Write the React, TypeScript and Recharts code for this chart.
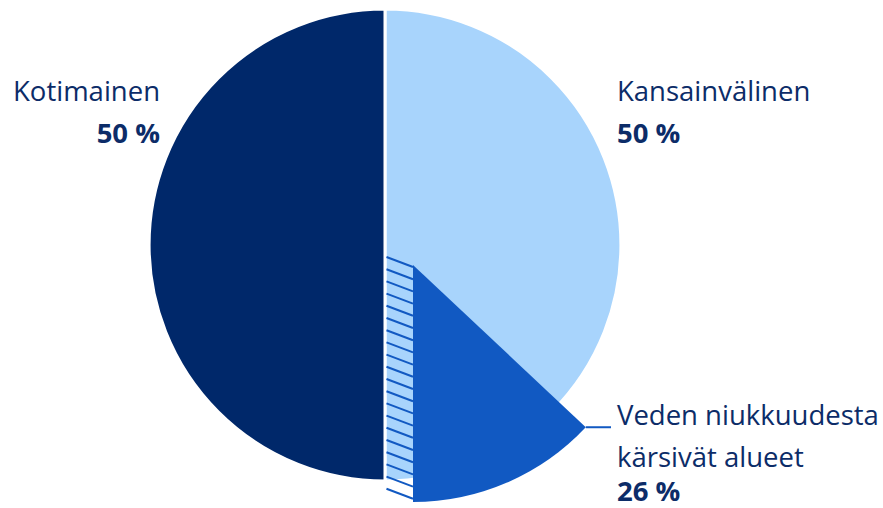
import React from 'react'
import { PieChart, Pie, Cell } from 'recharts'

// shares of the total
const origin = ['Kansainvälinen', 'Kotimainen']
const originShare = [50, 50]
// share of the international part that comes from water-scarce areas
const scarceLabel = ['Veden niukkuudesta', 'kärsivät alueet']
const scarceShareOfIntl = 26

const DARK = '#00286a'
const LIGHT = '#a8d4fc'
const MID = '#1159c2'
const TEXT = '#0c2c68'
const FONT = '"Open Sans", "Noto Sans", sans-serif'
const FS = 27.5

const W = 883
const H = 508
const CX = 385
const CY = 245
const R = 236
const SHIFT_X = 28
const SHIFT_Y = 20

const scarceValue = (originShare[0] * scarceShareOfIntl) / 100

const baseData = origin.map((name, i) => ({ name, value: originShare[i] }))
const explodedData = [
  { name: 'rest', value: originShare[0] - scarceValue },
  { name: 'scarce', value: scarceValue },
  { name: 'dom', value: originShare[1] },
]

const RAD = Math.PI / 180

const baseLabel = (props: any) => {
  const { index } = props
  if (index === 0) {
    return (
      <g>
        <text x={617} y={101} fill={TEXT} fontSize={FS} fontFamily={FONT}>{origin[0]}</text>
        <text x={617} y={143} fill={TEXT} fontSize={FS} fontWeight="bold" fontFamily={FONT}>{originShare[0]} %</text>
      </g>
    )
  }
  return (
    <g>
      <text x={160} y={101} textAnchor="end" fill={TEXT} fontSize={FS} fontFamily={FONT}>{origin[1]}</text>
      <text x={160} y={143} textAnchor="end" fill={TEXT} fontSize={FS} fontWeight="bold" fontFamily={FONT}>{originShare[1]} %</text>
    </g>
  )
}

// hatched strip left behind by the pulled-out slice
const hatch = () => {
  const lines = []
  for (let y = CY + 12; y < CY + R + 14; y += 12.2) {
    lines.push(<line key={y} x1={CX + 1.5} y1={y} x2={CX + SHIFT_X} y2={y + 10} stroke={MID} strokeWidth={2} />)
  }
  return <g>{lines}</g>
}

const scarceLabelRender = (props: any) => {
  const { index, cx, cy, outerRadius, startAngle } = props
  if (index === 0) return hatch()
  if (index !== 1) return null
  const vx = cx + outerRadius * Math.cos(startAngle * RAD)
  const vy = cy - outerRadius * Math.sin(startAngle * RAD)
  return (
    <g>
      <line x1={vx} y1={vy} x2={611} y2={vy} stroke={MID} strokeWidth={2} />
      <text x={617} y={425} fill={TEXT} fontSize={FS} fontFamily={FONT}>{scarceLabel[0]}</text>
      <text x={617} y={467} fill={TEXT} fontSize={FS} fontFamily={FONT}>{scarceLabel[1]}</text>
      <text x={617} y={501} fill={TEXT} fontSize={FS} fontWeight="bold" fontFamily={FONT}>{scarceShareOfIntl} %</text>
    </g>
  )
}

export default function App() {
  return (
    <div style={{ position: 'absolute', left: 0, top: 0, width: W, height: H, background: '#fff' }}>
      <PieChart width={W} height={H} margin={{ top: 0, right: 0, bottom: 0, left: 0 }}>
        <Pie
          data={baseData}
          dataKey="value"
          cx={CX}
          cy={CY}
          outerRadius={R}
          startAngle={90}
          endAngle={-270}
          stroke="#fff"
          strokeWidth={3}
          label={baseLabel}
          labelLine={false}
          isAnimationActive={false}
        >
          <Cell fill={LIGHT} />
          <Cell fill={DARK} />
        </Pie>
        <Pie
          data={explodedData}
          dataKey="value"
          cx={CX + SHIFT_X}
          cy={CY + SHIFT_Y}
          outerRadius={R + 1}
          startAngle={90}
          endAngle={-270}
          stroke="none"
          label={scarceLabelRender}
          labelLine={false}
          isAnimationActive={false}
        >
          <Cell fill="none" />
          <Cell fill={MID} />
          <Cell fill="none" />
        </Pie>
      </PieChart>
    </div>
  )
}
